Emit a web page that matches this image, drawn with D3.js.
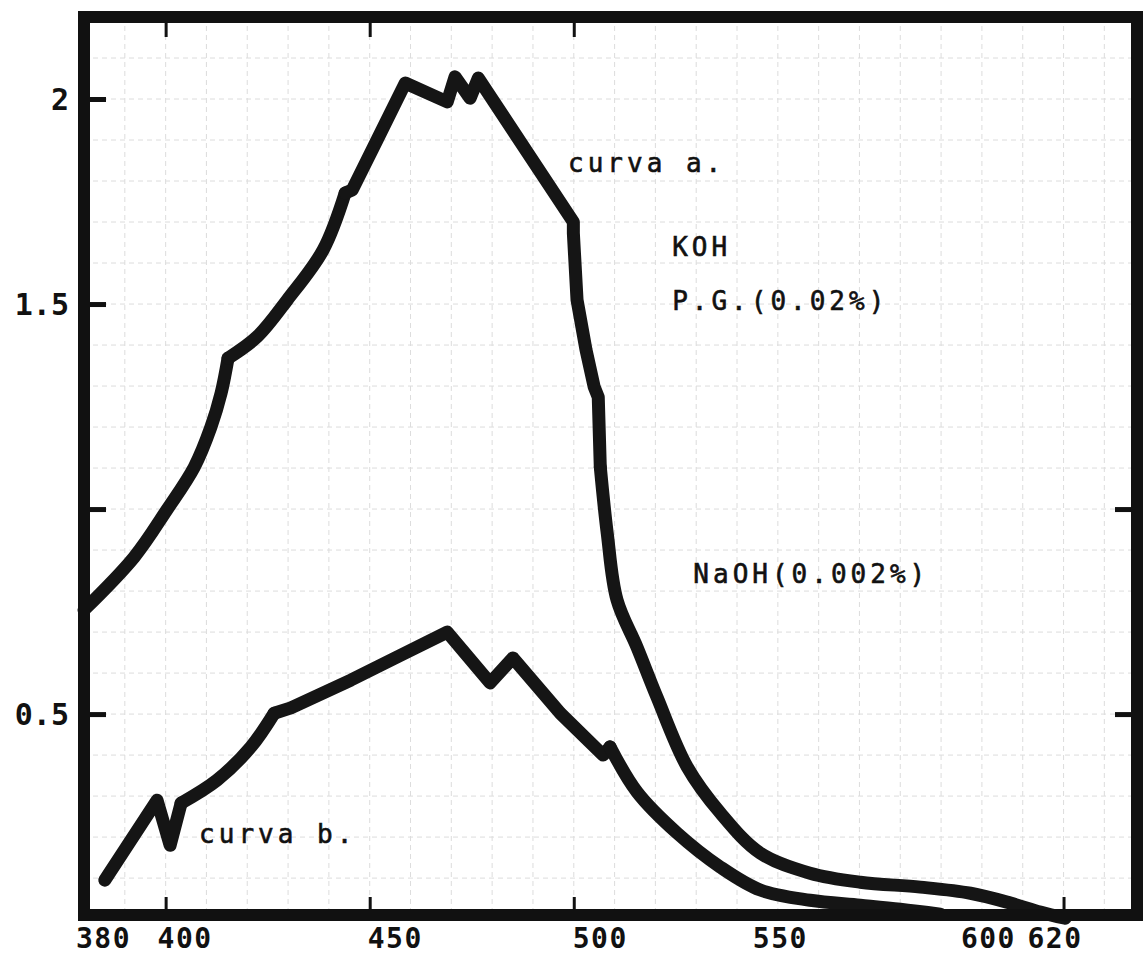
<!DOCTYPE html>
<html>
<head>
<meta charset="utf-8">
<script src="https://cdn.jsdelivr.net/npm/d3@7"></script>
<style>
  body { margin: 0; background: #fff; }
  text { font-family: "DejaVu Sans Mono", "Liberation Mono", monospace; fill: #111; }
</style>
</head>
<body>
<div id="chart"></div>
<script>
// wavelength (nm) and absorbance
const curveA_nm  = [380, 392.3, 400.3, 407.0, 411.1, 413.6, 415.3, 422.4, 429.8, 438.6, 444.0, 445.7, 451.8, 458.7, 469.0, 470.9, 474.6, 476.6, 499.9, 499.9, 500.8, 503.0, 505.0, 506.0, 506.5, 508.2, 510.6, 515.5, 520.4, 527.8, 535.9, 545.7, 557.9, 570.2, 584.9, 597.2, 607.0, 614.3, 620.4]
const curveA_abs = [0.754, 0.883, 0.998, 1.102, 1.200, 1.283, 1.368, 1.420, 1.510, 1.632, 1.771, 1.778, 1.900, 2.039, 1.993, 2.054, 2.002, 2.051, 1.700, 1.673, 1.510, 1.388, 1.298, 1.273, 1.102, 0.941, 0.778, 0.663, 0.541, 0.371, 0.259, 0.161, 0.112, 0.090, 0.078, 0.063, 0.039, 0.017, 0.002]

const curveB_nm  = [385.1, 397.9, 401.1, 403.8, 412.6, 420.9, 426.6, 430.7, 445.4, 457.7, 469.0, 479.5, 485.1, 496.7, 507.2, 508.9, 515.5, 525.3, 535.9, 545.7, 557.9, 570.2, 580.0, 589.8]
const curveB_abs = [0.095, 0.290, 0.180, 0.283, 0.339, 0.420, 0.502, 0.515, 0.583, 0.644, 0.700, 0.576, 0.637, 0.502, 0.400, 0.420, 0.310, 0.210, 0.127, 0.071, 0.046, 0.034, 0.024, 0.012]

const xTickLabels = [380, 400, 450, 500, 550, 600, 620]
const xTickMarks  = [400, 450, 500, 620]
const xTopMarks   = [400, 450, 500]
const yTickLabels = [0.5, 1.5, 2]
const yTickMarks  = [0.5, 1, 1.5, 2]
const yRightMarks = [0.5, 1]

// typed annotations: text, wavelength, absorbance of the baseline start
const notes = [
  { text: "curva a.",     nm: 498.6, abs: 1.822 },
  { text: "KOH",          nm: 524.1, abs: 1.617 },
  { text: "P.G.(0.02%)",  nm: 524.1, abs: 1.485 },
  { text: "NaOH(0.002%)", nm: 529.3, abs: 0.820 },
  { text: "curva b.",     nm: 408.2, abs: 0.185 }
]

const W = 1144, H = 957
const m = { left: 84, right: 1137, top: 17, bottom: 915 }

const svg = d3.select("#chart").append("svg")
  .attr("width", W)
  .attr("height", H)

const x = d3.scaleLinear().domain([380, 638]).range([m.left, m.right])
const y = d3.scaleLinear().domain([0.01, 2.2]).range([m.bottom, m.top])

// faint graph-paper grid
const grid = svg.append("g")
  .attr("stroke", "#bcbcbc")
  .attr("stroke-width", 1)
  .attr("stroke-dasharray", "5,4")
  .attr("opacity", 0.5)
grid.selectAll("line.h")
  .data(d3.range(1, 22).map(d => d / 10))
  .join("line")
  .attr("class", "h")
  .attr("x1", m.left).attr("x2", m.right)
  .attr("y1", d => y(d)).attr("y2", d => y(d))
grid.selectAll("line.v")
  .data(d3.range(390, 638, 10))
  .join("line")
  .attr("class", "v")
  .attr("y1", m.top).attr("y2", m.bottom)
  .attr("x1", d => x(d)).attr("x2", d => x(d))

// curves: hand-drawn pieces are smooth, the recorder kinks stay sharp
const smoothLine = d3.line().x(d => x(d[0])).y(d => y(d[1])).curve(d3.curveCatmullRom.alpha(0.5))
const sharpLine  = d3.line().x(d => x(d[0])).y(d => y(d[1]))

function drawCurve(nm, abs, pieces) {
  const pts = d3.zip(nm, abs)
  pieces.forEach(([i0, i1, smooth]) => {
    svg.append("path")
      .datum(pts.slice(i0, i1 + 1))
      .attr("d", smooth ? smoothLine : sharpLine)
      .attr("fill", "none")
      .attr("stroke", "#151515")
      .attr("stroke-width", 13)
      .attr("stroke-linejoin", "round")
      .attr("stroke-linecap", "round")
  })
}
drawCurve(curveB_nm, curveB_abs, [[0, 3, false], [3, 6, true], [6, 15, false], [15, 23, true]])
drawCurve(curveA_nm, curveA_abs, [[0, 6, true], [6, 10, true], [10, 24, false], [24, 38, true]])

// inward tick marks
function ticks(axis, transform, width) {
  const g = svg.append("g").attr("transform", transform).call(axis)
  g.select(".domain").remove()
  g.selectAll("line").attr("stroke", "#111").attr("stroke-width", width)
  g.selectAll("text").remove()
}
ticks(d3.axisBottom(x).tickValues(xTickMarks).tickSize(-18), `translate(0,${m.bottom})`, 3)
ticks(d3.axisTop(x).tickValues(xTopMarks).tickSize(-20), `translate(0,${m.top})`, 3)
ticks(d3.axisLeft(y).tickValues(yTickMarks).tickSize(-22), `translate(${m.left},0)`, 5)
ticks(d3.axisRight(y).tickValues(yRightMarks).tickSize(-22), `translate(${m.right},0)`, 5)

// tick labels (typed by hand on the original, so slightly off the ticks)
const labelShift = { 380: 19, 400: 19, 450: 25, 500: 26, 550: 2, 600: 6, 620: -9 }
const xLab = svg.append("g")
  .attr("transform", `translate(0,${m.bottom})`)
  .call(d3.axisBottom(x).tickValues(xTickLabels).tickSize(0).tickFormat(d3.format("d")))
xLab.select(".domain").remove()
xLab.selectAll("text")
  .attr("y", 33)
  .attr("dy", 0)
  .attr("dx", d => labelShift[d])
  .style("font-size", "28px")
  .style("font-weight", "bold")
  .style("letter-spacing", "1.5px")
  .style("fill", "#111")

const yLab = svg.append("g")
  .attr("transform", `translate(${m.left},0)`)
  .call(d3.axisLeft(y).tickValues(yTickLabels).tickSize(0)
    .tickFormat(d => d === 2 ? "2" : d3.format(".1f")(d)))
yLab.select(".domain").remove()
yLab.selectAll("text")
  .attr("x", -15)
  .attr("dy", "0.36em")
  .style("font-size", "30px")
  .style("font-weight", "bold")
  .style("fill", "#111")

// frame
svg.append("rect")
  .attr("x", m.left).attr("y", m.top)
  .attr("width", m.right - m.left).attr("height", m.bottom - m.top)
  .attr("fill", "none")
  .attr("stroke", "#111")
  .attr("stroke-width", 12)

// annotations
svg.append("g").selectAll("text")
  .data(notes)
  .join("text")
  .attr("x", d => x(d.nm))
  .attr("y", d => y(d.abs))
  .style("font-size", "26px")
  .style("letter-spacing", "4px")
  .style("stroke", "#111")
  .style("stroke-width", 0.6)
  .text(d => d.text)
</script>
</body>
</html>
